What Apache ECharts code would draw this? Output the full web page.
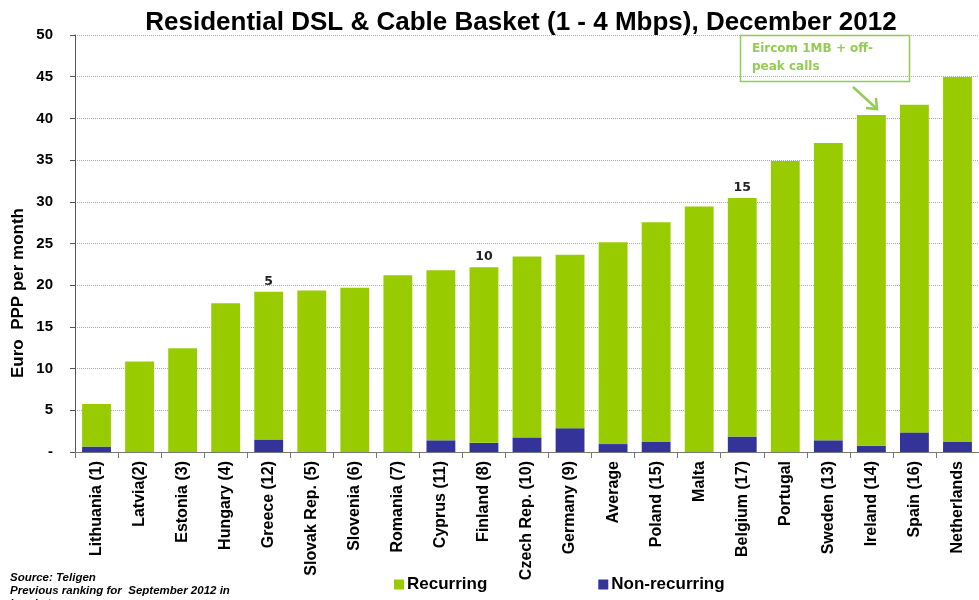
<!DOCTYPE html>
<html>
<head>
<meta charset="utf-8">
<script src="https://cdn.jsdelivr.net/npm/echarts@6/dist/echarts.min.js"></script>
<style>html,body{margin:0;padding:0;background:#fff}#c{width:979px;height:600px}</style>
</head>
<body>
<div id="c"></div>
<script>
const categories = ['Lithuania (1)','Latvia(2)','Estonia (3)','Hungary (4)','Greece (12)','Slovak Rep. (5)','Slovenia (6)','Romania (7)','Cyprus (11)','Finland (8)','Czech Rep. (10)','Germany (9)','Average','Poland (15)','Malta','Belgium (17)','Portugal','Sweden (13)','Ireland (14)','Spain (16)','Netherlands'];
const nonRecurring = [0.65, 0, 0, 0, 1.5, 0, 0, 0, 1.4, 1.1, 1.75, 2.85, 0.95, 1.2, 0, 1.85, 0, 1.4, 0.75, 2.35, 1.2];
const recurring = [5.1, 10.85, 12.45, 17.85, 17.7, 19.35, 19.7, 21.2, 20.4, 21.05, 21.7, 20.8, 24.2, 26.35, 29.45, 28.6, 34.9, 35.65, 39.65, 39.3, 43.75];
const rankMarks = ['', '', '', '', '5', '', '', '', '', '10', '', '', '', '', '', '15', '', '', '', '', ''];
const yTicks = [0, 5, 10, 15, 20, 25, 30, 35, 40, 45, 50];

const GREEN = '#99CC00', BLUE = '#333399', NOTE = '#92CC55';
const chart = echarts.init(document.getElementById('c'));
chart.setOption({
  animation: false,
  textStyle: { fontFamily: 'Liberation Sans, Arial, sans-serif' },
  title: {
    text: 'Residential DSL & Cable Basket (1 - 4 Mbps), December 2012',
    left: 516, textAlign: 'center', top: 5,
    textStyle: { fontSize: 26, fontWeight: 'bold', color: '#000', fontFamily: 'Liberation Sans, Arial, sans-serif' }
  },
  grid: { left: 75, right: -5, top: 35, bottom: 148, containLabel: false },
  legend: {
    data: ['Recurring', 'Non-recurring'],
    left: 389, top: 571, itemWidth: 10, itemHeight: 10, itemGap: 111,
    icon: 'rect',
    textStyle: { fontSize: 17, fontWeight: 'bold', color: '#000', padding: [0, 0, 0, -2] }
  },
  xAxis: {
    type: 'category', data: categories,
    axisLine: { lineStyle: { color: '#777', width: 1 } },
    axisTick: { show: true, interval: 0, length: 6, lineStyle: { color: '#777' } },
    axisLabel: { interval: 0, rotate: 90, margin: 9, fontSize: 16, fontWeight: 'bold', color: '#000' }
  },
  yAxis: {
    type: 'value', min: 0, max: 50, interval: 5,
    axisLine: { show: true, lineStyle: { color: '#555' } },
    axisTick: { show: true, length: 5, lineStyle: { color: '#555' } },
    axisLabel: { margin: 22, fontSize: 15, fontWeight: 'bold', color: '#000',
      formatter: v => (yTicks.indexOf(v) >= 0 ? (v === 0 ? '-' : String(v)) : '') },
    splitLine: { show: true, lineStyle: { color: '#aaa', type: [1, 1], width: 1 } }
  },
  series: [
    { name: 'Non-recurring', type: 'bar', stack: 'total', data: nonRecurring,
      itemStyle: { color: BLUE }, barCategoryGap: '33%' },
    { name: 'Recurring', type: 'bar', stack: 'total', data: recurring,
      itemStyle: { color: GREEN }, barCategoryGap: '33%',
      label: { show: true, position: 'top', distance: 4,
        formatter: p => rankMarks[p.dataIndex],
        fontSize: 12.5, fontWeight: 'bold', color: '#222', fontFamily: 'DejaVu Sans, Verdana, sans-serif' } }
  ],
  graphic: [
    { type: 'text', x: 18, y: 293, rotation: Math.PI / 2,
      style: { text: 'Euro  PPP per month', fontSize: 17, fontWeight: 'bold', fill: '#000',
        fontFamily: 'Liberation Sans, Arial, sans-serif', textAlign: 'center', textVerticalAlign: 'middle' } },
    { type: 'text', x: 10, y: 571,
      style: { text: 'Source: Teligen\nPrevious ranking for  September 2012 in\nbrackets', fontSize: 11.5,
        fontWeight: 'bold', fontStyle: 'italic', fill: '#000', lineHeight: 13,
        fontFamily: 'Liberation Sans, Arial, sans-serif' } },
    { type: 'rect', shape: { x: 740.5, y: 35.5, width: 169, height: 46 },
      style: { fill: '#fff', stroke: NOTE, lineWidth: 1.5 } },
    { type: 'text', x: 752, y: 40,
      style: { text: 'Eircom 1MB + off-\npeak calls', fontSize: 12, fontWeight: 'bold', fill: NOTE,
        lineHeight: 18, fontFamily: 'DejaVu Sans, Verdana, sans-serif' } },
    { type: 'line', shape: { x1: 853, y1: 87, x2: 876, y2: 108 },
      style: { stroke: NOTE, lineWidth: 2.5 } },
    { type: 'polyline', shape: { points: [[866, 108], [877, 109], [876, 98]] },
      style: { stroke: NOTE, lineWidth: 2.5, fill: null } }
  ]
});
</script>
</body>
</html>
